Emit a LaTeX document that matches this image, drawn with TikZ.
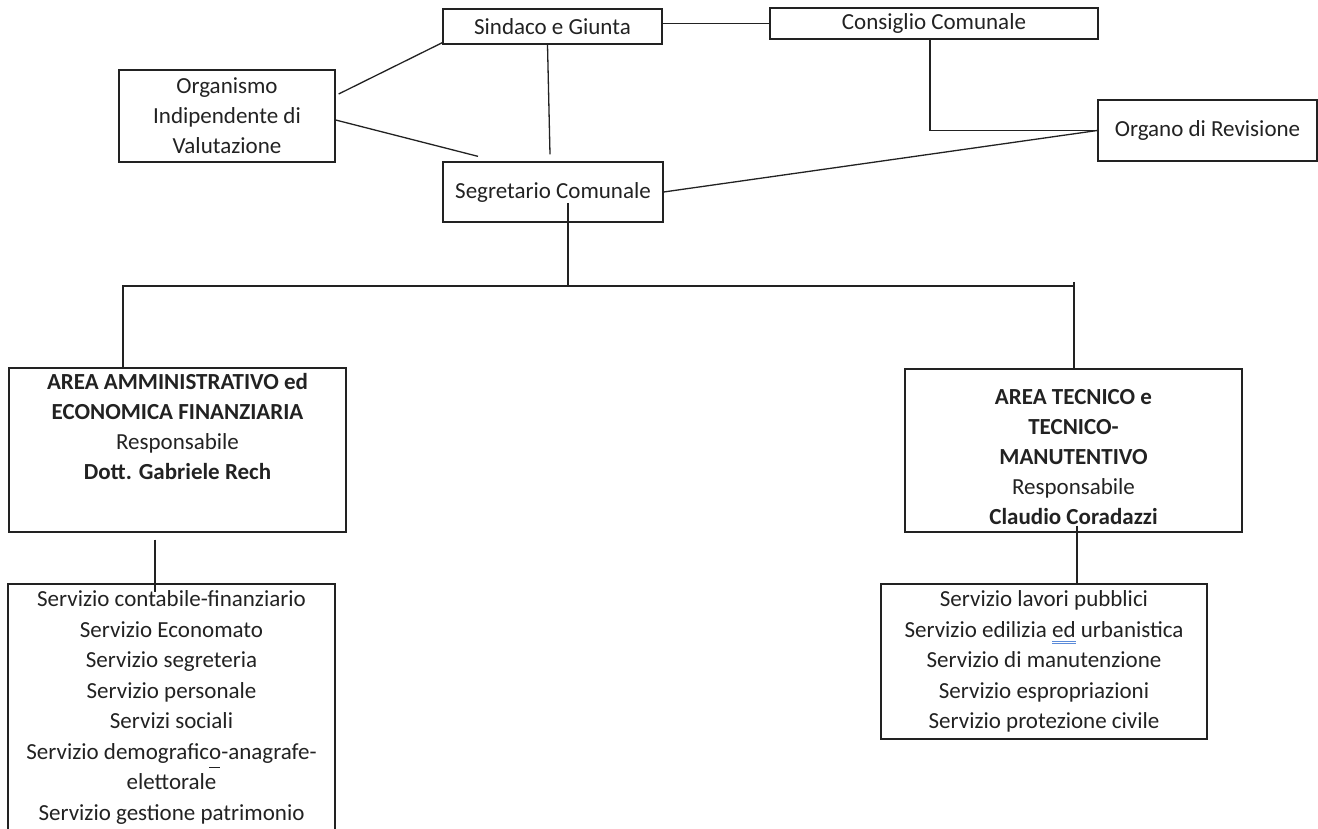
\documentclass[tikz,border=0pt]{standalone}
\usepackage{fontspec}
\setmainfont{Carlito}
\usetikzlibrary{positioning}

\definecolor{inkgray}{HTML}{222222}
\definecolor{gramblue}{HTML}{5B8BD9}
\newlength\gramw
\newcommand{\gramline}[1]{\settowidth{\gramw}{#1}%
  \rlap{\textcolor{gramblue}{\rule[-4.5pt]{\gramw}{0.9pt}}}%
  \rlap{\textcolor{gramblue}{\rule[-7pt]{\gramw}{0.9pt}}}#1}
\newcommand{\inkmark}[1]{\rlap{\rule[-9pt]{11pt}{1.3pt}}#1}

\begin{document}
\begin{tikzpicture}[x=1pt,y=-1pt,
  box/.style={draw=inkgray, line width=1.3pt, rectangle, inner sep=0pt,
    text=inkgray, align=center, font=\fontsize{23}{30}\selectfont},
  boxtext/.style={box, draw=none},
  link/.style={draw=inkgray, line width=1.3pt}]
\useasboundingbox (0,0) rectangle (1318,829);

% top of the chart
\node[box, minimum width=219, minimum height=35] (sindaco) at (552.5,26.5) {Sindaco e Giunta};
\node[box, minimum width=328, minimum height=31] (consiglio) at (934,23.5) {Consiglio Comunale};
\node[box, minimum width=216, minimum height=92] (organismo) at (227,116) {Organismo\\Indipendente di\\Valutazione};
\node[box, minimum width=219, minimum height=61] (organo) at (1207.5,130.5) {Organo di Revisione};
\node[box, minimum width=220, minimum height=60] (segretario) at (553,192) {Segretario Comunale};

% the two areas
\node[box, minimum width=337, minimum height=164] (amm) at (177.5,450) {};
\node[boxtext, below=5pt of amm.north] (ammtxt) {\textbf{AREA AMMINISTRATIVO ed}\\\textbf{ECONOMICA FINANZIARIA}\\Responsabile\\\textbf{Dott. Gabriele Rech}};
\node[box, minimum width=337, minimum height=163] (tec) at (1073.5,450.5) {};
\node[boxtext, below=20pt of tec.north] (tectxt) {\textbf{AREA TECNICO e}\\\textbf{TECNICO-}\\\textbf{MANUTENTIVO}\\Responsabile\\\textbf{Claudio Coradazzi}};

% services
\node[box, minimum width=327, minimum height=247, font=\fontsize{23}{30.5}\selectfont] (servL) at (171.5,707.5)
  {Servizio contabile-finanziario\\Servizio Economato\\Servizio segreteria\\Servizio personale\\Servizi sociali\\Servizio demografic\inkmark{o}-anagrafe-\\elettorale\\Servizio gestione patrimonio};
\node[box, minimum width=326, minimum height=155, font=\fontsize{23}{30.5}\selectfont] (servR) at (1044,661.5)
  {Servizio lavori pubblici\\Servizio edilizia \gramline{ed} urbanistica\\Servizio di manutenzione\\Servizio espropriazioni\\Servizio protezione civile};

% connectors
\draw[link] (sindaco.east |- consiglio.west) -- (consiglio.west);
\draw[link] ([shift={(3pt,22pt)}]organismo.east) -- ([yshift=2pt]sindaco.south west);
\draw[link] ([yshift=-4pt]organismo.east) -- ([shift={(-75pt,5pt)}]segretario.north);
\draw[link] ([xshift=-5pt]sindaco.south) -- ([shift={(-3pt,7pt)}]segretario.north);
\draw[link] ([xshift=-4pt]consiglio.south) |- (organo.west);
\draw[link] (segretario.east) -- (organo.west);

\coordinate (busL) at (123,286);
\coordinate (busM) at (568,286);
\coordinate (busR) at (1074,286);
\draw[link] (busM |- segretario.center) ++(0,11) -- (busM);
\draw[link] (amm.north -| busL) -- (busL) -- (busR);
\draw[link] (busR) ++(0,-4) -- (tec.north -| busR);

\draw[link] ([shift={(-22.5pt,-7pt)}]amm.south) -- ([shift={(-16.5pt,-9pt)}]servL.north);
\draw[link] ([shift={(3.5pt,7pt)}]tec.south) coordinate (tdrop) -- (tdrop |- servR.north);
\end{tikzpicture}
\end{document}
